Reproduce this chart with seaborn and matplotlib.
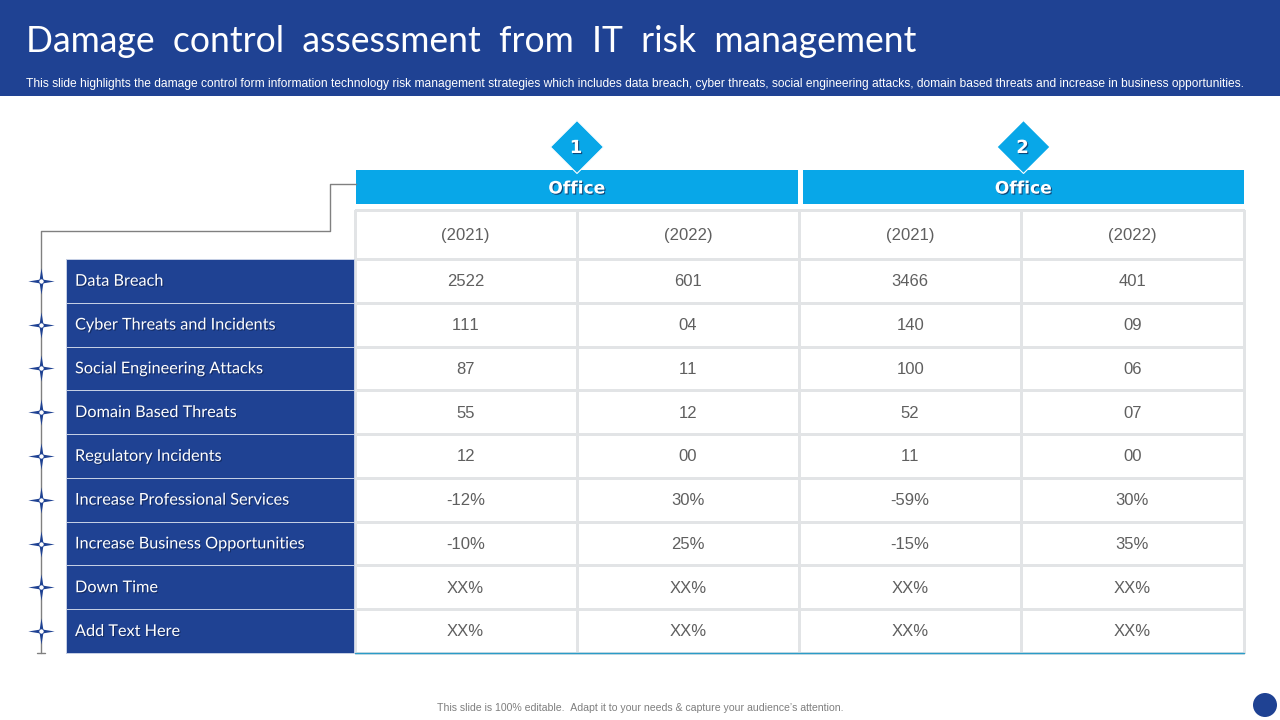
import numpy as np
import matplotlib
matplotlib.use("Agg")
import matplotlib.pyplot as plt
import matplotlib.patheffects as pe
from matplotlib.colors import ListedColormap
from matplotlib.patches import Rectangle, Polygon, Circle
from matplotlib.path import Path
import seaborn as sns

# Table content
risk_rows = ["Data Breach", "Cyber Threats and Incidents", "Social Engineering Attacks",
             "Domain Based Threats", "Regulatory Incidents", "Increase Professional Services",
             "Increase Business Opportunities", "Down Time", "Add Text Here"]
years = ["(2021)", "(2022)", "(2021)", "(2022)"]
office_1_2021 = ["2522", "111", "87", "55", "12", "-12%", "-10%", "XX%", "XX%"]
office_1_2022 = ["601", "04", "11", "12", "00", "30%", "25%", "XX%", "XX%"]
office_2_2021 = ["3466", "140", "100", "52", "11", "-59%", "-15%", "XX%", "XX%"]
office_2_2022 = ["401", "09", "06", "07", "00", "30%", "35%", "XX%", "XX%"]
offices = ["Office", "Office"]
office_nums = ["1", "2"]

title = "Damage  control  assessment  from  IT  risk  management"
subtitle = ("This slide highlights the damage control form information technology risk management "
            "strategies which includes data breach, cyber threats, social engineering attacks, "
            "domain based threats and increase in business opportunities.")
footer = "This slide is 100% editable.  Adapt it to your needs & capture your audience\u2019s attention."

NAVY = "#1F4293"
CYAN = "#08A7E8"
GRID = "#E2E4E6"
TEXT = "#5F5F5F"
W, H = 1280, 720

sns.set_theme(style="white")
plt.rcParams["font.family"] = ["Liberation Sans", "DejaVu Sans"]
plt.rcParams["text.kerning_factor"] = 10


def px_axes(fig, left, top, right, bottom, **kw):
    return fig.add_axes([left / W, 1 - bottom / H, (right - left) / W, (bottom - top) / H], **kw)


fig = plt.figure(figsize=(12.8, 7.2), dpi=100, facecolor="white")

# backdrop in pixel coordinates
bg = fig.add_axes([0, 0, 1, 1])
bg.set_xlim(0, W)
bg.set_ylim(H, 0)
bg.axis("off")
bg.add_patch(Rectangle((0, 0), W, 96, color=NAVY, lw=0))
shadow = [pe.withSimplePatchShadow(offset=(0.8, -0.8), shadow_rgbFace="#10224f", alpha=0.7)]

bg.text(26, 42, title, color="white", fontsize=25.6, family="Lato", va="center", ha="left")
bg.text(26, 83.5, subtitle, color="white", fontsize=8.66, va="center", ha="left")

# office bands and diamonds
for x0, x1, name, num in zip([356, 803], [798, 1244], offices, office_nums):
    cx = (x0 + x1) / 2
    bg.add_patch(Rectangle((x0, 170), x1 - x0, 34, color=CYAN, lw=0))
    bg.text(cx, 188.5, name, color="white", fontsize=12.3, fontweight="bold", family="DejaVu Sans",
            ha="center", va="center", path_effects=shadow)
    bg.add_patch(Polygon([(cx, 120.5), (cx + 26.5, 147), (cx, 173.5), (cx - 26.5, 147)],
                         facecolor=CYAN, edgecolor="white", lw=0.8))
    bg.text(cx - 1, 148, num, color="white", fontsize=13, fontweight="bold", family="DejaVu Sans",
            ha="center", va="center", path_effects=shadow)

# connector line
bg.plot([356, 330, 330, 40.5, 40.5], [184, 184, 231, 231, 653], color="#808080", lw=1, zorder=1)
bg.plot([36.5, 44.5], [652.5, 652.5], color="#808080", lw=1, zorder=1)

# year header row
header = np.array([years])
ax_head = px_axes(fig, 354.5, 210, 1243.5, 259)
sns.heatmap(np.zeros((1, 4)), ax=ax_head, cmap=ListedColormap(["white"]), cbar=False,
            annot=header, fmt="", annot_kws={"color": TEXT, "fontsize": 12},
            linewidths=1, linecolor=GRID, clip_on=False, xticklabels=False, yticklabels=False)
for t in ax_head.texts:
    t.set_y(t.get_position()[1] + 0.03)

# value cells
values = np.array([office_1_2021, office_1_2022, office_2_2021, office_2_2022]).T
ax_vals = px_axes(fig, 354.5, 259, 1243.5, 653)
sns.heatmap(np.zeros(values.shape), ax=ax_vals, cmap=ListedColormap(["white"]), cbar=False,
            annot=values, fmt="", annot_kws={"color": TEXT, "fontsize": 12},
            linewidths=1, linecolor=GRID, clip_on=False, xticklabels=False, yticklabels=False)
for t in ax_vals.texts:
    t.set_y(t.get_position()[1] + 0.02)
ax_vals.plot([0, 4], [9, 9], color="#2A9CC8", lw=1, clip_on=False, zorder=5)

# row label column
ax_rows = px_axes(fig, 65.5, 259, 354.5, 653)
sns.heatmap(np.zeros((len(risk_rows), 1)), ax=ax_rows, cmap=ListedColormap([NAVY]), cbar=False,
            linewidths=0.6, linecolor="#C4CEE4", clip_on=False, xticklabels=False, yticklabels=False)
for i, name in enumerate(risk_rows):
    ax_rows.text(9.5 / 289, i + 0.52, name, color="white", fontsize=11.7, family="Lato",
                 ha="left", va="center", path_effects=shadow)

# four point star markers on the connector
star = Path([(0, 1), (0.14, 0.14), (1, 0), (0.14, -0.14), (0, -1), (-0.14, -0.14), (-1, 0),
             (-0.14, 0.14), (0, 1)], closed=True)
row_y = 259 + (np.arange(len(risk_rows)) + 0.5) * (653 - 259) / len(risk_rows)
bg.scatter([40.5] * len(row_y), row_y, marker=star, s=360, color=NAVY, linewidths=0, zorder=3)
bg.scatter([40.5] * len(row_y), row_y, marker="o", s=13, color="white", edgecolors=NAVY,
           linewidths=0.4, zorder=4)

# footer
bg.text(640, 708, footer, color="#7F7F7F", fontsize=7.55, ha="center", va="center")
bg.add_patch(Circle((1265, 705), 12, color=NAVY, lw=0))

fig.savefig("out.png", dpi=100)
